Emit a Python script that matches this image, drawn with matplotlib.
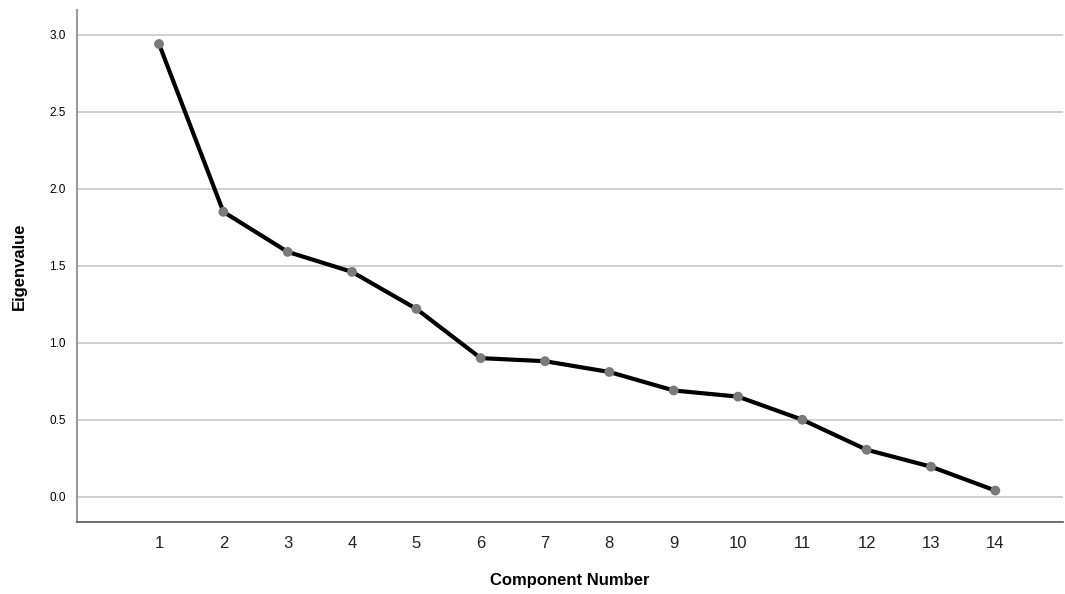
import matplotlib
matplotlib.use("Agg")
import matplotlib.pyplot as plt

components = [1, 2, 3, 4, 5, 6, 7, 8, 9, 10, 11, 12, 13, 14]
eigenvalues = [2.94, 1.85, 1.59, 1.46, 1.22, 0.90, 0.88, 0.81, 0.69, 0.65, 0.50, 0.305, 0.195, 0.04]
yticks = [0.0, 0.5, 1.0, 1.5, 2.0, 2.5, 3.0]

plt.rcParams['font.family'] = ['Liberation Sans', 'DejaVu Sans']

fig = plt.figure(figsize=(10.65, 5.94), dpi=100)
ax = fig.add_axes([0.0723, 0.121, 0.926, 0.862])

ax.plot(components, eigenvalues, color='black', linewidth=3, zorder=3)
ax.scatter(components, eigenvalues, s=50, color='#7a7a7a', zorder=4, edgecolors='none')

ax.set_xlim(-0.275, 15.055)
ax.set_ylim(-0.165, 3.16)
ax.set_yticks(yticks)
ax.set_yticklabels([f"{v:.1f}" for v in yticks], fontsize=8.5)
ax.set_xticks(components)
ax.set_xticklabels([str(c) for c in components], fontsize=12, color='#222222')
ax.tick_params(length=0)
ax.tick_params(axis='y', pad=8)
ax.tick_params(axis='x', pad=10)

ax.yaxis.grid(True, color='#c8c8c8', linewidth=1.2)
ax.set_axisbelow(True)

for s in ['top', 'right']:
    ax.spines[s].set_visible(False)
ax.spines['left'].set_color('#9a9a9a')
ax.spines['left'].set_linewidth(1.5)
ax.spines['bottom'].set_color('#555555')
ax.spines['bottom'].set_linewidth(1.2)

ax.set_xlabel('Component Number', fontsize=12, fontweight='bold', labelpad=16)
ax.set_ylabel('Eigenvalue', fontsize=12, fontweight='bold', labelpad=16)

fig.savefig('out.png', dpi=100)
